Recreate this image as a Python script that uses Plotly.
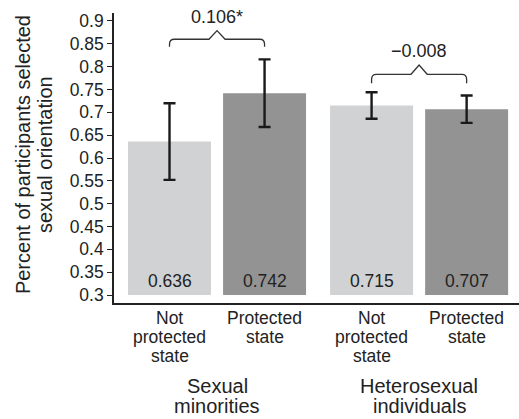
import plotly.graph_objects as go

# Data
groups = ["Sexual<br>minorities", "Heterosexual<br>individuals"]
conditions = ["Not<br>protected<br>state", "Protected<br>state"]
means = [0.636, 0.742, 0.715, 0.707]
errors = [0.084, 0.074, 0.029, 0.030]
diff_labels = ["0.106*", "\u22120.008"]
y_ticks = [0.3, 0.35, 0.4, 0.45, 0.5, 0.55, 0.6, 0.65, 0.7, 0.75, 0.8, 0.85, 0.9]
y_ticktext = ["0.3", "0.35", "0.4", "0.45", "0.5", "0.55", "0.6", "0.65", "0.7", "0.75", "0.8", "0.85", "0.9"]
y_title = ["Percent of participants selected", "sexual orientation"]

BASE = 0.3
GROUP_STEP = 2.126
BAR_W = 0.873
LIGHT = "#d1d2d4"
DARK = "#939393"
INK = "#222222"
FONT = "Liberation Sans, Arial, Helvetica, sans-serif"

xs = [g * GROUP_STEP + i for g in range(len(groups)) for i in range(len(conditions))]
colors = [LIGHT, DARK] * len(groups)

fig = go.Figure()
fig.add_trace(go.Bar(
    x=xs,
    y=[m - BASE for m in means],
    base=BASE,
    width=BAR_W,
    marker=dict(color=colors, line=dict(width=0)),
    error_y=dict(type="data", array=errors, visible=True,
                 color="#1a1a1a", thickness=2.4, width=6),
    hoverinfo="skip",
))

annotations = []

# value labels near the bottom of each bar
for x, m in zip(xs, means):
    annotations.append(dict(
        x=x, y=BASE, xref="x", yref="y", text=f"{m:.3f}", showarrow=False,
        xanchor="center", yanchor="middle", yshift=14,
        font=dict(size=17.5, color=INK, family=FONT)))

# condition labels under each bar, one annotation per line
for x, lab in zip(xs, conditions * len(groups)):
    for k, line in enumerate(lab.split("<br>")):
        annotations.append(dict(
            x=x, y=0, xref="x", yref="paper", text=line, showarrow=False,
            xanchor="center", yanchor="middle", yshift=-(15 + 18.8 * k),
            font=dict(size=17.5, color=INK, family=FONT)))

# group labels
for g, lab in enumerate(groups):
    gx = g * GROUP_STEP + 0.5
    for k, line in enumerate(lab.split("<br>")):
        annotations.append(dict(
            x=gx, y=0, xref="x", yref="paper", text=line, showarrow=False,
            xanchor="center", yanchor="middle", yshift=-(82.7 + 20.6 * k),
            font=dict(size=20, color=INK, family=FONT)))

# y-axis title, two rotated lines
for k, line in enumerate(y_title):
    annotations.append(dict(
        x=0, y=0.51, xref="paper", yref="paper", text=line, showarrow=False,
        textangle=-90, xanchor="center", yanchor="middle", xshift=-91 + 22 * k,
        font=dict(size=20, color=INK, family=FONT)))

# comparison braces above each group
shapes = []
brace_levels = [(0.8437, 0.860, 0.8788), (0.7636, 0.7833, 0.8037)]
for g, (y_end, y_h, y_peak) in enumerate(brace_levels):
    x1 = xs[2 * g]
    x2 = xs[2 * g + 1]
    xm = (x1 + x2) / 2
    rx, ry, pw = 0.05, 0.011, 0.085
    path = (f"M {x1},{y_end} L {x1},{y_h - ry} Q {x1},{y_h} {x1 + rx},{y_h} "
            f"L {xm - pw},{y_h} L {xm},{y_peak} L {xm + pw},{y_h} "
            f"L {x2 - rx},{y_h} Q {x2},{y_h} {x2},{y_h - ry} L {x2},{y_end}")
    shapes.append(dict(type="path", path=path, xref="x", yref="y",
                       line=dict(color="#333333", width=1.3)))
    annotations.append(dict(
        x=xm, y=y_peak, xref="x", yref="y", text=diff_labels[g], showarrow=False,
        xanchor="center", yanchor="middle", yshift=14,
        font=dict(size=18, color=INK, family=FONT)))

fig.update_layout(
    width=519, height=419,
    margin=dict(l=114, r=0, t=13, b=116, pad=0),
    paper_bgcolor="white", plot_bgcolor="white",
    showlegend=False,
    font=dict(family=FONT, color=INK, size=17.5),
    xaxis=dict(range=[-0.584, 3.677], showgrid=False, zeroline=False,
               showticklabels=False, ticks="", showline=True,
               linecolor=INK, linewidth=1.6, fixedrange=True),
    yaxis=dict(range=[0.2825, 0.9175], showgrid=False, zeroline=False,
               tickvals=y_ticks, ticktext=y_ticktext, ticks="outside",
               ticklen=5, tickwidth=1.3, tickcolor=INK, showline=True,
               linecolor=INK, linewidth=1.6,
               tickfont=dict(size=17.5, color=INK, family=FONT),
               fixedrange=True),
    annotations=annotations,
    shapes=shapes,
)

fig.write_html("out.html")
